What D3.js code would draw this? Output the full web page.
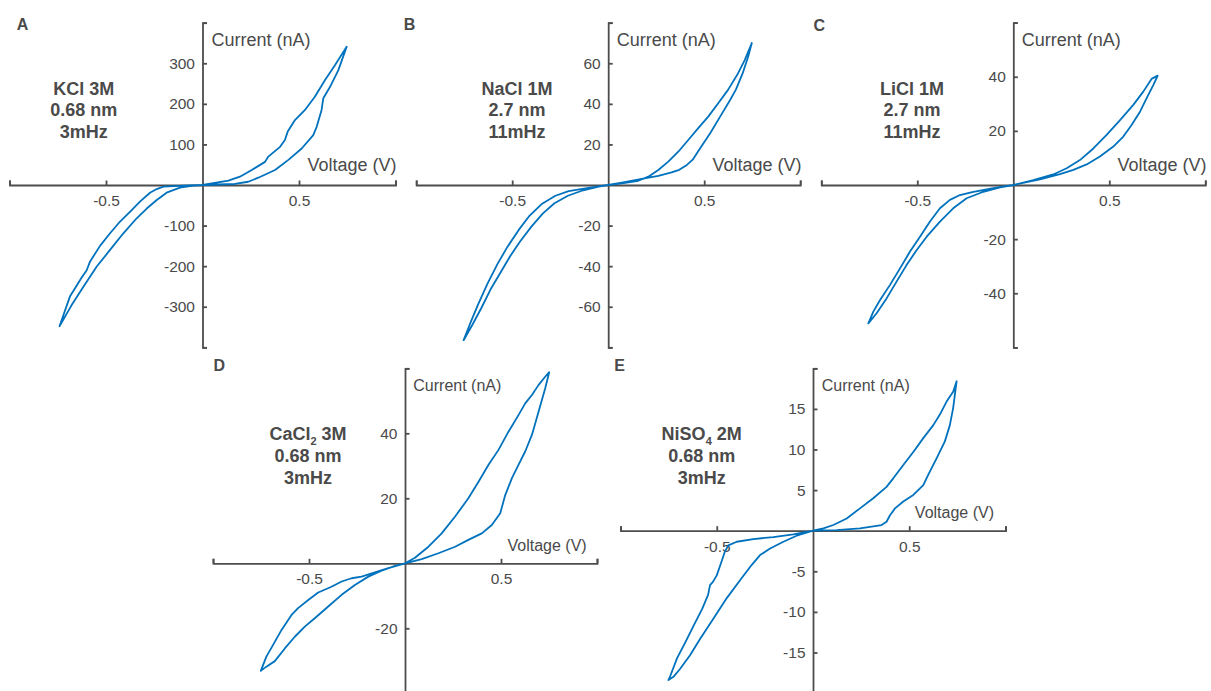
<!DOCTYPE html>
<html><head><meta charset="utf-8">
<script src="https://cdn.jsdelivr.net/npm/d3@7"></script>
<style>
body{margin:0;background:#fff}
svg{display:block}
text{font-family:"Liberation Sans",Arial,Helvetica,sans-serif;fill:#4a4a4a}
</style>
</head><body>
<svg id="chart" width="1211" height="691"></svg>
<script>
// ---------- DATA (voltage V, current nA) : closed I-V loops ----------
const kclLoop = [[0,0],[0.134,10.6],[0.194,20.5],[0.255,37],[0.324,57],[0.341,70],[0.402,94],[0.427,111],[0.441,131],[0.479,160],[0.531,185],[0.583,218],[0.635,259],[0.687,296],[0.747,341],
  [0.704,283],[0.661,242],[0.626,214],[0.617,185],[0.592,144],[0.574,123],[0.514,90],[0.445,62],[0.376,37],[0.289,18],[0.237,8],[0.168,2.5],[0,0],
  [-0.047,-1.6],[-0.117,-6.6],[-0.186,-19],[-0.237,-37],[-0.289,-58],[-0.341,-82],[-0.41,-119],[-0.479,-160],[-0.548,-201],[-0.617,-251],[-0.678,-296],[-0.741,-348],
  [-0.687,-275],[-0.626,-228],[-0.6,-210],[-0.583,-189],[-0.531,-150],[-0.479,-119],[-0.427,-90],[-0.367,-62],[-0.324,-41],[-0.272,-19],[-0.237,-10],[-0.203,-4],[-0.099,-1.6],[0,0]];

const naclLoop = [[0,0],[0.071,0.8],[0.157,2.1],[0.209,4.1],[0.261,7.4],[0.313,11.5],[0.365,16.4],[0.417,22.2],[0.469,28],[0.521,33.7],[0.573,40.3],[0.624,46.9],[0.676,55],[0.711,61.6],[0.748,70],
  [0.728,63],[0.7,55],[0.665,47],[0.635,41.9],[0.583,33.7],[0.531,25.5],[0.479,18.1],[0.44,12.5],[0.41,9.9],[0.37,7.5],[0.33,6.2],[0.261,4.5],[0.175,3],[0.071,1.2],[0,0],
  [-0.102,-1.4],[-0.206,-3],[-0.275,-5.3],[-0.344,-9.2],[-0.413,-15.5],[-0.465,-22],[-0.525,-30.5],[-0.577,-39],[-0.628,-48.5],[-0.678,-59],[-0.72,-68.5],[-0.753,-76.5],
  [-0.708,-69],[-0.66,-60.5],[-0.61,-51],[-0.56,-43],[-0.51,-35],[-0.46,-28],[-0.4,-20.5],[-0.34,-14],[-0.28,-9],[-0.21,-5.3],[-0.13,-2.6],[-0.05,-0.8],[0,0]];

const liclLoop = [[0,0],[0.104,1.8],[0.208,3.9],[0.278,6.2],[0.347,9.2],[0.417,13.5],[0.486,18.5],[0.556,24],[0.625,29.6],[0.677,34.5],[0.72,39.2],[0.752,40.4],
  [0.729,36.9],[0.694,32],[0.66,27.1],[0.616,22.2],[0.573,17.9],[0.521,14.2],[0.451,10.5],[0.382,7.6],[0.313,5.6],[0.243,4],[0.139,2.1],[0,0],
  [-0.104,-1.2],[-0.208,-2.5],[-0.278,-3.7],[-0.33,-5.5],[-0.382,-8.6],[-0.434,-13.5],[-0.486,-19.1],[-0.538,-24.6],[-0.59,-30.8],[-0.642,-36.9],[-0.694,-42.5],[-0.729,-46.8],[-0.755,-51.1],
  [-0.712,-47.4],[-0.66,-41.9],[-0.608,-35.7],[-0.556,-29.6],[-0.503,-24],[-0.451,-19.1],[-0.382,-13.5],[-0.313,-8.6],[-0.243,-4.9],[-0.156,-2.5],[-0.069,-0.9],[0,0]];

const caclLoop = [[0,0],[0.052,1.7],[0.122,5.1],[0.191,9.2],[0.261,14.4],[0.33,20],[0.383,25.1],[0.435,30.3],[0.487,34.9],[0.539,40.5],[0.591,45.6],[0.626,49.2],[0.661,51.8],[0.696,54.9],[0.73,57.4],[0.751,58.8],
  [0.73,53.8],[0.696,46.7],[0.661,39.5],[0.626,34.4],[0.591,30.3],[0.557,26.2],[0.522,21],[0.496,15.4],[0.452,11.8],[0.4,9.2],[0.33,7.2],[0.261,5.1],[0.174,3.1],[0.087,1.3],[0,0],
  [-0.087,-1.5],[-0.157,-2.8],[-0.226,-4.1],[-0.278,-4.6],[-0.33,-5.6],[-0.383,-7.2],[-0.452,-9],[-0.504,-11.3],[-0.557,-13.8],[-0.591,-15.9],[-0.643,-20.5],[-0.687,-25.1],[-0.722,-28.7],[-0.751,-33.1],
  [-0.722,-31.8],[-0.678,-30.1],[-0.626,-26.2],[-0.574,-22.6],[-0.522,-19.5],[-0.47,-16.9],[-0.4,-13.3],[-0.33,-9.7],[-0.261,-6.7],[-0.191,-4.1],[-0.122,-2.3],[-0.052,-0.8],[0,0]];

const nisoLoop = [[0,0],[0.054,0.29],[0.106,0.7],[0.175,1.5],[0.244,2.75],[0.313,4],[0.382,5.4],[0.417,6.45],[0.469,8.1],[0.521,9.7],[0.573,11.4],[0.625,13],[0.659,14.3],[0.694,15.9],[0.728,17.1],[0.746,18.4],
  [0.728,15.1],[0.711,13],[0.685,11],[0.642,8.9],[0.599,6.9],[0.573,5.6],[0.521,4.4],[0.469,3.6],[0.426,2.75],[0.4,1.9],[0.382,1.1],[0.356,0.7],[0.244,0.29],[0.123,0.08],[0,0],
  [-0.102,-0.45],[-0.206,-0.78],[-0.31,-1.03],[-0.396,-1.36],[-0.44,-1.8],[-0.458,-2.6],[-0.475,-3.8],[-0.5,-5.5],[-0.52,-6.3],[-0.535,-6.7],[-0.545,-7.9],[-0.575,-9.6],[-0.618,-11.6],[-0.662,-13.7],[-0.706,-15.7],[-0.74,-17.8],[-0.751,-18.4],
  [-0.725,-18],[-0.69,-17],[-0.638,-15.3],[-0.586,-13.3],[-0.517,-10.8],[-0.448,-8.3],[-0.379,-6.1],[-0.318,-4.2],[-0.275,-3],[-0.223,-2.2],[-0.154,-1.36],[-0.085,-0.62],[0,0]];

const panelLetters = ["A","B","C","D","E"];
const xTickValues = [-1,-0.5,0.5,1];
const xTickLabels = [-0.5,0.5];
const yDomains = [[-400,400],[-80,80],[-60,60],[-40,60],[-20,20]];
const yTickValues = [[-400,-300,-200,-100,100,200,300,400],[-80,-60,-40,-20,20,40,60,80],[-60,-40,-20,20,40,60],[-40,-20,20,40,60],[-20,-15,-10,-5,5,10,15,20]];
const yTickLabels = [[-300,-200,-100,100,200,300],[-60,-40,-20,20,40,60],[-40,-20,20,40],[-20,20,40],[-15,-10,-5,5,10,15]];
const titles = [
  [[["KCl 3M"]],[["0.68 nm"]],[["3mHz"]]],
  [[["NaCl 1M"]],[["2.7 nm"]],[["11mHz"]]],
  [[["LiCl 1M"]],[["2.7 nm"]],[["11mHz"]]],
  [[["CaCl"],["2",1],[" 3M"]],[["0.68 nm"]],[["3mHz"]]],
  [[["NiSO"],["4",1],[" 2M"]],[["0.68 nm"]],[["3mHz"]]]
];
const xAxisLabel = "Voltage (V)";
const yAxisLabel = "Current (nA)";
const loops = [kclLoop, naclLoop, liclLoop, caclLoop, nisoLoop];

// ---------- LAYOUT ----------
const layout = [
  {xr:[9.5,395.5], yr:[347.3,22.7], letter:[22.5,29.5], title:[83.7,94.7], lab:18, volt:[396.5,171.4], curr:[211.5,45.7]},
  {xr:[416.2,800.2], yr:[347.3,22.7], letter:[409.5,29.7], title:[517,94.7], lab:18, volt:[801.5,171.4], curr:[616.7,45.7]},
  {xr:[821.3,1205.3], yr:[347.4,22.6], letter:[819.2,30.7], title:[912,94.7], lab:18, volt:[1206.5,171.4], curr:[1021.7,45.7]},
  {xr:[213,597], yr:[693.3,368.3], letter:[219.2,371.4], title:[308,440.4], lab:16, volt:[586.7,550.6], curr:[413.3,391.3]},
  {xr:[620.5,1005.5], yr:[693.1,368.3], letter:[619.7,371.4], title:[701.7,440.4], lab:16, volt:[994,518], curr:[821.7,391.3]}
];

const svg = d3.select("#chart");
const axisColor = "#4d4d4d";

loops.forEach((loop, i) => {
  const L = layout[i];
  const x = d3.scaleLinear().domain([-1,1]).range(L.xr);
  const y = d3.scaleLinear().domain(yDomains[i]).range(L.yr);
  const g = svg.append("g");

  const xa = g.append("g").attr("transform", `translate(0,${y(0)})`)
    .call(d3.axisBottom(x).tickValues(xTickValues).tickSize(-4.5).tickSizeOuter(-4.5).tickPadding(10)
      .tickFormat(d => xTickLabels.includes(d) ? String(d) : ""));
  const ya = g.append("g").attr("transform", `translate(${x(0)},0)`)
    .call(d3.axisLeft(y).tickValues(yTickValues[i]).tickSize(-4.5).tickSizeOuter(-4.5).tickPadding(7.5)
      .tickFormat(d => yTickLabels[i].includes(d) ? String(d) : ""));
  [xa, ya].forEach(a => {
    a.selectAll("path.domain").attr("stroke", axisColor).attr("stroke-width", 1.8);
    a.selectAll(".tick line").attr("stroke", axisColor).attr("stroke-width", 1.8);
    a.selectAll(".tick text").attr("fill", "#4a4a4a").style("font-size", "15.5px")
      .style("font-family", '"Liberation Sans",Arial,Helvetica,sans-serif');
  });

  g.append("path").datum(loop)
    .attr("d", d3.line().x(d => x(d[0])).y(d => y(d[1])))
    .attr("fill", "none").attr("stroke", "#0072BD").attr("stroke-width", 1.8)
    .attr("stroke-linejoin", "round");

  g.append("text").attr("x", L.volt[0]).attr("y", L.volt[1]).attr("text-anchor", "end")
    .style("font-size", L.lab + "px").text(xAxisLabel);
  g.append("text").attr("x", L.curr[0]).attr("y", L.curr[1]).attr("text-anchor", "start")
    .style("font-size", L.lab + "px").text(yAxisLabel);

  g.append("text").attr("x", L.letter[0]).attr("y", L.letter[1]).attr("text-anchor", "middle")
    .style("font-size", "16px").style("font-weight", "bold").text(panelLetters[i]);

  titles[i].forEach((line, k) => {
    const t = g.append("text").attr("x", L.title[0]).attr("y", L.title[1] + k * 21.7)
      .attr("text-anchor", "middle").style("font-size", "18px").style("font-weight", "bold");
    line.forEach(seg => {
      const s = t.append("tspan").text(seg[0]);
      if (seg[1]) { s.attr("dy", 5).style("font-size", "11px"); }
      else if (t.selectAll("tspan").size() > 1) { s.attr("dy", -5); }
    });
  });
});
</script>
</body></html>
